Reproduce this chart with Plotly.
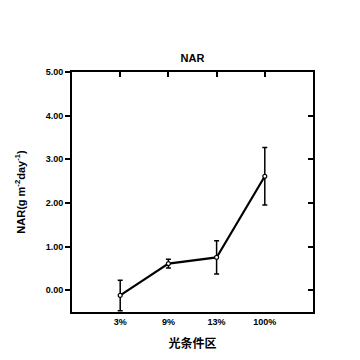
import plotly.graph_objects as go

categories = ["3%", "9%", "13%", "100%"]
nar_values = [-0.12, 0.61, 0.75, 2.61]
nar_errors = [0.35, 0.10, 0.38, 0.66]
y_tick_vals = [0, 1, 2, 3, 4, 5]
y_tick_text = ["0.00", "1.00", "2.00", "3.00", "4.00", "5.00"]

xpos = list(range(1, len(categories) + 1))
font = dict(family="Liberation Sans, Arial, sans-serif", color="black")

# the page body has an 8px margin, so the figure is offset by (8, 8)
OFF = 8
L, R, T, B = 72 - OFF, 47 + OFF, 72 - OFF, 48 + OFF

fig = go.Figure()
fig.add_trace(go.Scatter(
    x=xpos, y=nar_values,
    mode="lines+markers",
    line=dict(color="black", width=2.2),
    marker=dict(symbol="circle", size=4, color="white", line=dict(color="black", width=1.2)),
    error_y=dict(type="data", array=nar_errors, visible=True, color="black", thickness=1.5, width=2.5),
    showlegend=False,
))
fig.add_trace(go.Scatter(x=[None], y=[None], xaxis="x2", yaxis="y2", showlegend=False))

fig.update_layout(
    width=360, height=360,
    margin=dict(l=L, r=R, t=T, b=B, autoexpand=False),
    paper_bgcolor="white", plot_bgcolor="white",
    title=dict(text="<b>NAR</b>", x=((72 + 313) / 2 - OFF) / 360, xanchor="center",
               y=1 - (58 - OFF) / 360, yanchor="middle",
               font=dict(size=11, **font)),
    xaxis=dict(
        range=[0, 5], tickvals=xpos, ticktext=[f"<b>{c}</b>" for c in categories],
        ticks="", showline=True, linecolor="black", linewidth=2, showgrid=False, zeroline=False,
        tickfont=dict(size=9, **font), automargin=False,
        title=dict(text="<b>光条件区</b>", font=dict(size=12, family="Noto Sans CJK SC", color="black"), standoff=14),
    ),
    yaxis=dict(
        range=[-0.5, 5], tickvals=y_tick_vals, ticktext=[f"<b>{t}</b>" for t in y_tick_text],
        ticks="outside", ticklen=5, tickwidth=1.5, tickcolor="black",
        showline=True, linecolor="black", linewidth=2, showgrid=False, zeroline=False,
        tickfont=dict(size=9, **font), automargin=False,
        title=dict(text="<b>NAR(g m<sup>-2</sup>day<sup>-1</sup>)</b>", font=dict(size=11, **font), standoff=18),
    ),
    xaxis2=dict(
        overlaying="x", side="top", range=[0, 5], tickvals=xpos, showticklabels=False,
        ticks="inside", ticklen=5, tickwidth=1.5, tickcolor="black", automargin=False,
        showline=True, linecolor="black", linewidth=2, showgrid=False, zeroline=False,
    ),
    yaxis2=dict(
        overlaying="y", side="right", range=[-0.5, 5], tickvals=y_tick_vals, showticklabels=False,
        ticks="inside", ticklen=5, tickwidth=1.5, tickcolor="black", automargin=False,
        showline=True, linecolor="black", linewidth=2, showgrid=False, zeroline=False,
    ),
)

fig.write_html("out.html")
